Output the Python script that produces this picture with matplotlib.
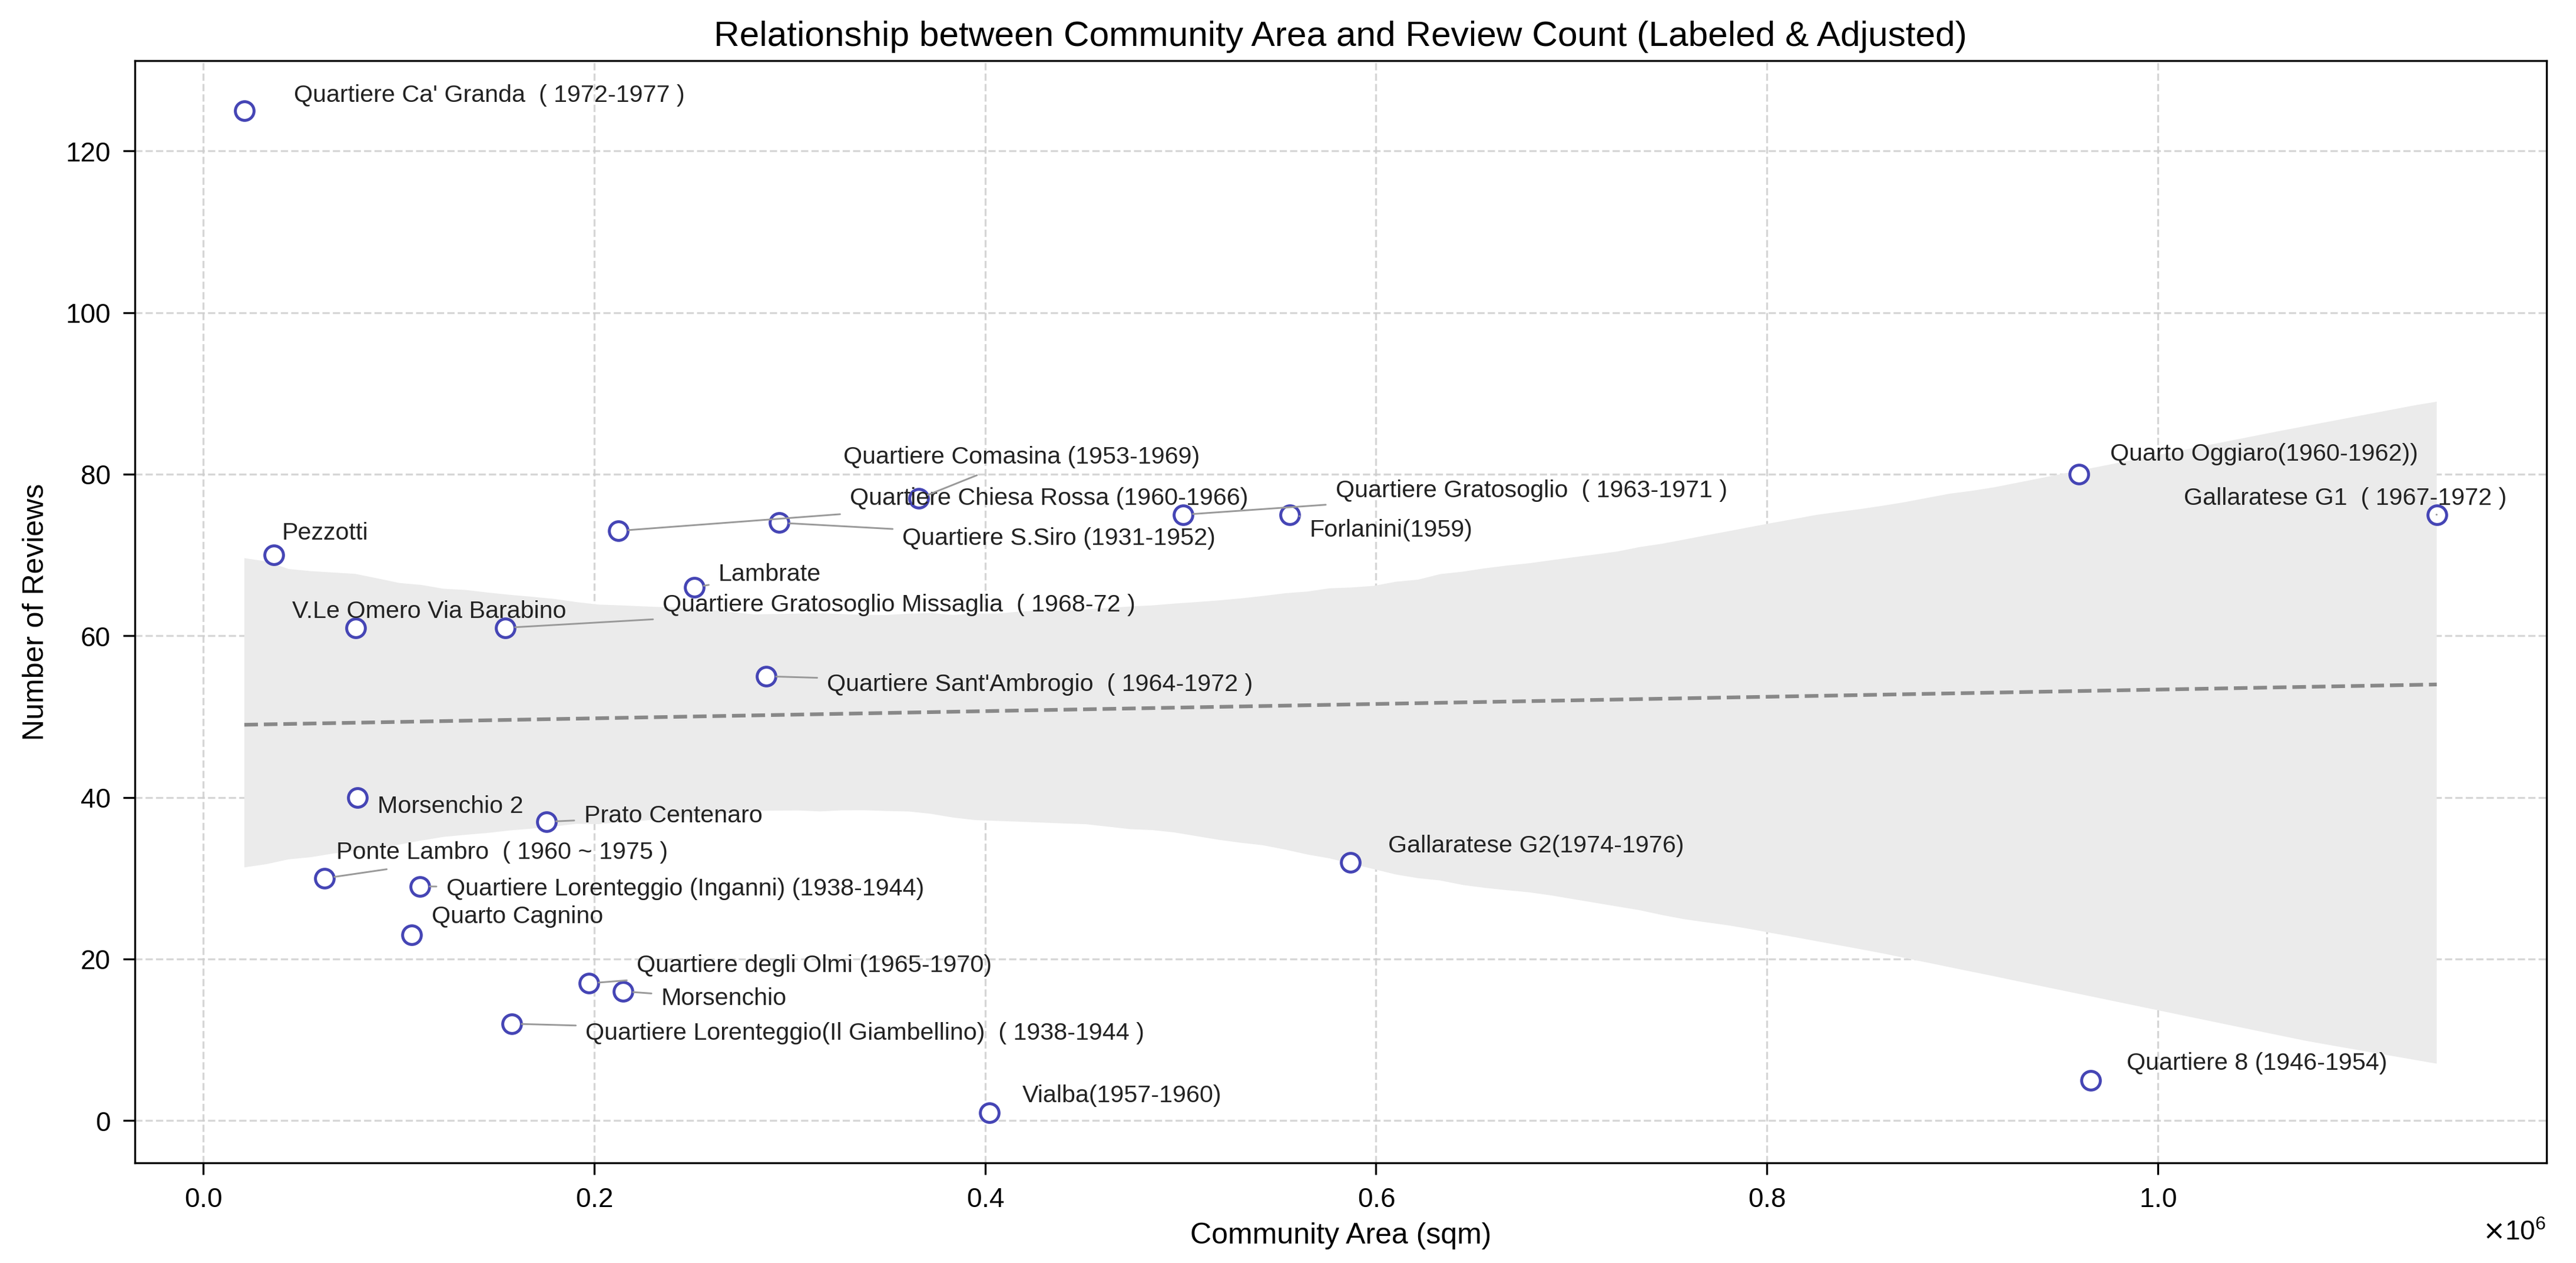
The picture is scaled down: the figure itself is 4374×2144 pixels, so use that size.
import matplotlib
matplotlib.use('Agg')
import matplotlib.pyplot as plt
import seaborn as sns
import numpy as np

# community data (area in sqm, number of reviews)
names = [
    "Quartiere Ca' Granda  ( 1972-1977 )",
    "Pezzotti",
    "V.Le Omero Via Barabino",
    "Morsenchio 2",
    "Ponte Lambro  ( 1960 ~ 1975 )",
    "Quartiere Lorenteggio (Inganni) (1938-1944)",
    "Quarto Cagnino",
    "Quartiere Gratosoglio Missaglia  ( 1968-72 )",
    "Prato Centenaro",
    "Quartiere degli Olmi (1965-1970)",
    "Morsenchio",
    "Quartiere Lorenteggio(Il Giambellino)  ( 1938-1944 )",
    "Quartiere Chiesa Rossa (1960-1966)",
    "Quartiere S.Siro (1931-1952)",
    "Quartiere Comasina (1953-1969)",
    "Lambrate",
    "Quartiere Sant'Ambrogio  ( 1964-1972 )",
    "Quartiere Gratosoglio  ( 1963-1971 )",
    "Forlanini(1959)",
    "Gallaratese G2(1974-1976)",
    "Vialba(1957-1960)",
    "Quarto Oggiaro(1960-1962))",
    "Quartiere 8 (1946-1954)",
    "Gallaratese G1  ( 1967-1972 )",
]
area = [21000, 36100, 78100, 78900, 62100, 110800, 106600, 154500, 175500,
        197300, 214900, 157900, 212400, 294700, 366100, 251100, 288000,
        501300, 555800, 586900, 402200, 959700, 965600, 1142700]
reviews = [125, 70, 61, 40, 30, 29, 23, 61, 37, 17, 16, 12, 73, 74, 77, 66,
           55, 75, 75, 32, 1, 80, 5, 75]

# label placement (data coords) and whether a leader line is drawn
label_pos = [
    (46200, 126.9, False), (40300, 72.7, False), (45300, 63.0, False),
    (89000, 38.9, False), (68000, 33.2, True), (124300, 28.7, True),
    (116700, 25.3, False), (235100, 63.8, True), (194800, 37.7, True),
    (221700, 19.2, True), (234300, 15.1, True), (195600, 10.8, True),
    (330800, 77.0, True), (357700, 72.1, True), (327500, 82.1, True),
    (263600, 67.6, True), (319100, 54.0, True), (579300, 78.0, True),
    (565900, 73.1, True), (606200, 34.0, False), (419000, 3.1, False),
    (975700, 82.5, False), (984100, 7.1, False), (1013400, 77.0, True),
]

plt.rcParams['font.family'] = ['Liberation Sans', 'DejaVu Sans']

fig = plt.figure(figsize=(14.58, 7.147), dpi=300)
ax = fig.add_axes([0.0523, 0.0794, 0.9362, 0.8726])

sns.regplot(x=np.array(area), y=np.array(reviews), ax=ax, scatter=False,
            ci=95, seed=0, n_boot=1000, color='#dddddd',
            line_kws=dict(color='#888888', linestyle='--', linewidth=1.5))
ax.lines[-1].set_color('#888888')
ax.collections[-1].set_facecolor('#ebebeb')
ax.collections[-1].set_alpha(1)

ax.scatter(area, reviews, s=58, facecolors='white', edgecolors='#4545b5',
           linewidths=1.2, zorder=3)

for n, x, y, (tx, ty, lead) in zip(names, area, reviews, label_pos):
    if lead:
        ax.annotate(n, xy=(x, y), xytext=(tx, ty), textcoords='data',
                    ha='left', va='center', fontsize=9.9, color='#222222',
                    arrowprops=dict(arrowstyle='-', color='#999999', lw=0.7,
                                    shrinkA=2, shrinkB=4))
    else:
        ax.text(tx, ty, n, ha='left', va='center', fontsize=9.9, color='#222222')

ax.grid(True, linestyle='--', color='#cccccc', alpha=0.8, linewidth=0.8)
ax.set_axisbelow(True)
ax.ticklabel_format(axis='x', style='sci', scilimits=(6, 6), useMathText=True)
ax.xaxis.get_offset_text().set_fontsize(11)
ax.tick_params(labelsize=11, length=4.8, pad=5)
ax.set_xlabel('Community Area (sqm)', fontsize=12)
ax.set_ylabel('Number of Reviews', fontsize=12, labelpad=6.5)
ax.set_title('Relationship between Community Area and Review Count (Labeled & Adjusted)',
             fontsize=14.5)
ax.margins(x=0.05, y=0.05)

fig.savefig('out.png', dpi=300)
